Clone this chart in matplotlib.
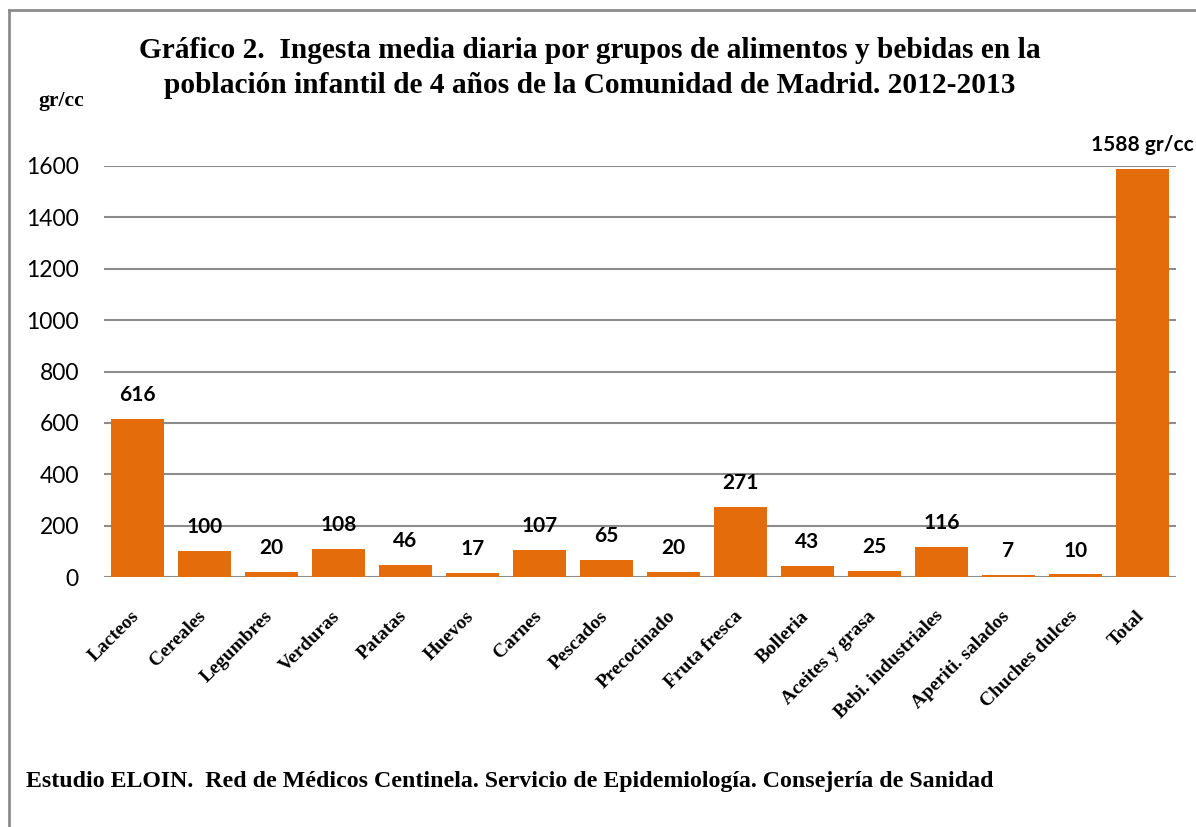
import matplotlib
matplotlib.use("Agg")
import matplotlib.pyplot as plt
from matplotlib.lines import Line2D
from matplotlib.transforms import ScaledTranslation

categories = ["Lacteos", "Cereales", "Legumbres", "Verduras", "Patatas", "Huevos",
              "Carnes", "Pescados", "Precocinado", "Fruta fresca", "Bolleria",
              "Aceites y grasa", "Bebi. industriales", "Aperiti. salados",
              "Chuches dulces", "Total"]
values = [616, 100, 20, 108, 46, 17, 107, 65, 20, 271, 43, 25, 116, 7, 10, 1588]
value_labels = ["616", "100", "20", "108", "46", "17", "107", "65", "20", "271",
                "43", "25", "116", "7", "10", "1588 gr/cc"]
yticks = [0, 200, 400, 600, 800, 1000, 1200, 1400, 1600]

title = ("Gráfico 2.  Ingesta media diaria por grupos de alimentos y bebidas en la\n"
         "población infantil de 4 años de la Comunidad de Madrid. 2012-2013")
footer = ("Estudio ELOIN.  Red de Médicos Centinela. Servicio de Epidemiología. "
          "Consejería de Sanidad")

W, H = 1196, 827
fig = plt.figure(figsize=(W / 100, H / 100), dpi=100)
fig.patch.set_facecolor("white")

ax = fig.add_axes([104 / W, 1 - 577 / H, (1176 - 104) / W, (577 - 166) / H])
x = list(range(len(categories)))
ax.bar(x, values, width=0.8, color="#E46C0A", zorder=3)
ax.set_xlim(-0.5, len(categories) - 0.5)
ax.set_ylim(0, 1600)
ax.set_yticks(yticks)
ax.set_yticklabels([str(v) for v in yticks], fontfamily="Lato", fontsize=16.5)
ax.yaxis.grid(True, color="#8c8c8c", linewidth=1.5, zorder=0)
ax.set_axisbelow(True)
for s in ["top", "right", "left", "bottom"]:
    ax.spines[s].set_visible(False)
ax.tick_params(axis="y", length=0, pad=18)
ax.tick_params(axis="x", length=0, pad=22)
ax.set_xticks(x)
ax.set_xticklabels(categories, rotation=45, ha="right", va="top",
                   fontfamily="Liberation Serif", fontweight="bold", fontsize=14)
shift = ScaledTranslation(5 / 100, 0, fig.dpi_scale_trans)
for lbl in ax.get_xticklabels():
    lbl.set_transform(lbl.get_transform() + shift)

for xi, v, lab in zip(x, values, value_labels):
    ax.annotate(lab, (xi, v), xytext=(0, 10), textcoords="offset points",
                ha="center", va="bottom", fontfamily="Lato", fontweight="bold",
                fontsize=15, annotation_clip=False)

fig.text(590 / W, 1 - 68 / H, title, ha="center", va="center",
         fontfamily="Liberation Serif", fontweight="bold", fontsize=21.2,
         linespacing=1.38)
fig.text(38 / W, 1 - 101 / H, "gr/cc", ha="left", va="center",
         fontfamily="Liberation Serif", fontweight="bold", fontsize=15.5)
fig.text(26 / W, 1 - 781 / H, footer, ha="left", va="center",
         fontfamily="Liberation Serif", fontweight="bold", fontsize=17.2)

# chart border (left and top edges visible)
fig.add_artist(Line2D([8.5 / W, 8.5 / W], [0, 1 - 9.5 / H], color="#8c8c8c",
                      linewidth=2, transform=fig.transFigure))
fig.add_artist(Line2D([8.5 / W, 1], [1 - 9.5 / H, 1 - 9.5 / H], color="#8c8c8c",
                      linewidth=2, transform=fig.transFigure))

fig.savefig("out.png", dpi=100)
